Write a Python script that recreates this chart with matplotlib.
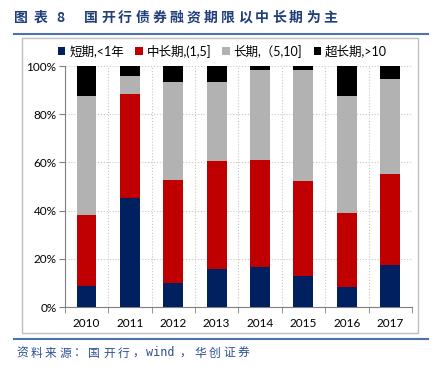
import matplotlib.pyplot as plt
import numpy as np
from matplotlib.patches import Rectangle
from matplotlib.lines import Line2D

plt.rcParams['font.family'] = ['Lato', 'Noto Sans CJK SC', 'DejaVu Sans']

years = ['2010', '2011', '2012', '2013', '2014', '2015', '2016', '2017']
duanqi = [8.8, 45.2, 9.9, 15.9, 16.4, 13.0, 8.4, 17.4]
zhongchang = [29.2, 43.1, 42.7, 44.7, 44.6, 39.1, 30.6, 37.7]
changqi = [49.6, 7.4, 40.9, 32.9, 37.5, 46.4, 48.6, 39.4]
chaochang = [12.4, 4.3, 6.5, 6.5, 1.5, 1.5, 12.4, 5.5]

etiquetas = ['短期,<1年', '中长期,(1,5]', '长期,（5,10]', '超长期,>10']
colores = ['#002060', '#C00000', '#B2B2B2', '#000000']

W, H = 435, 369
CJK = ['Noto Sans CJK SC']
MONO = ['DejaVu Sans Mono']


def texto_espaciado(fig, x0, y, tokens, **kw):
    # coloca cada trozo de texto en su propia posición (x en píxeles)
    x = x0
    for tok, avance, fam in tokens:
        fig.text(x / W, 1 - y / H, tok, va='center', ha='left', family=fam, **kw)
        x += avance


fig = plt.figure(figsize=(W / 100, H / 100), dpi=100)
ax = fig.add_axes([0.149, 0.168, 0.798, 0.653])

x = np.arange(len(years))
base = np.zeros(len(years))
for serie, color, etiqueta in zip([duanqi, zhongchang, changqi, chaochang], colores, etiquetas):
    ax.bar(x, serie, bottom=base, width=0.46, color=color, label=etiqueta, zorder=3)
    base += np.array(serie)

ax.set_xlim(-0.5, len(years) - 0.5)
ax.set_ylim(0, 100)
ax.set_yticks(range(0, 101, 20))
ax.set_yticklabels([f'{v}%' for v in range(0, 101, 20)], fontsize=8.5)
ax.set_xticks(x)
ax.set_xticklabels(years, fontsize=8.5)
ax.set_xticks(np.arange(-0.5, len(years)), minor=True)
ax.tick_params(axis='x', which='major', length=0, pad=8)
ax.tick_params(axis='x', which='minor', length=4, color='#808080', direction='out')
ax.tick_params(axis='y', length=4, color='#808080', pad=2)
ax.grid(axis='y', linestyle=':', color='#C8C8C8', linewidth=0.8, zorder=0)
ax.grid(axis='x', which='minor', linestyle=':', color='#C8C8C8', linewidth=0.8, zorder=0)
for lado in ['top', 'right']:
    ax.spines[lado].set_visible(False)
ax.spines['left'].set_color('#808080')
ax.spines['bottom'].set_color('#808080')

leg = fig.legend(loc='center left', bbox_to_anchor=(58 / W, 1 - 51 / H), ncol=4, frameon=False,
                 fontsize=9, handlelength=0.6, handleheight=0.6, handletextpad=0.3,
                 columnspacing=0.9, borderaxespad=0, borderpad=0)

# marco gris alrededor del gráfico
fig.add_artist(Rectangle((22 / W, 1 - 333 / H), (418 - 22) / W, (333 - 38) / H,
                         transform=fig.transFigure, fill=False, edgecolor='#BFBFBF', linewidth=1))

# líneas azules de título y fuente
fig.add_artist(Line2D([14 / W, 428 / W], [1 - 34 / H] * 2, transform=fig.transFigure,
                      color='#4F73A8', linewidth=1.5))
fig.add_artist(Line2D([14 / W, 428 / W], [1 - 339 / H] * 2, transform=fig.transFigure,
                      color='#4F73A8', linewidth=1.5))

titulo = [('图', 20, CJK), ('表', 22, CJK), ('8', 28, CJK)] + \
         [(c, 17.1, CJK) for c in '国开行债券融资期限以中长期为主']
texto_espaciado(fig, 14, 18, titulo, fontsize=10, color='#1F3E7A', fontweight='bold')

fuente = [(c, 14.5, CJK) for c in '资料来源：国开行，'] + [('wind', 33, MONO)] + \
         [(c, 14.5, CJK) for c in '，华创证券']
texto_espaciado(fig, 16, 353, fuente, fontsize=8.5, color='#2E4E8F')

fig.savefig('out.png', dpi=100)
